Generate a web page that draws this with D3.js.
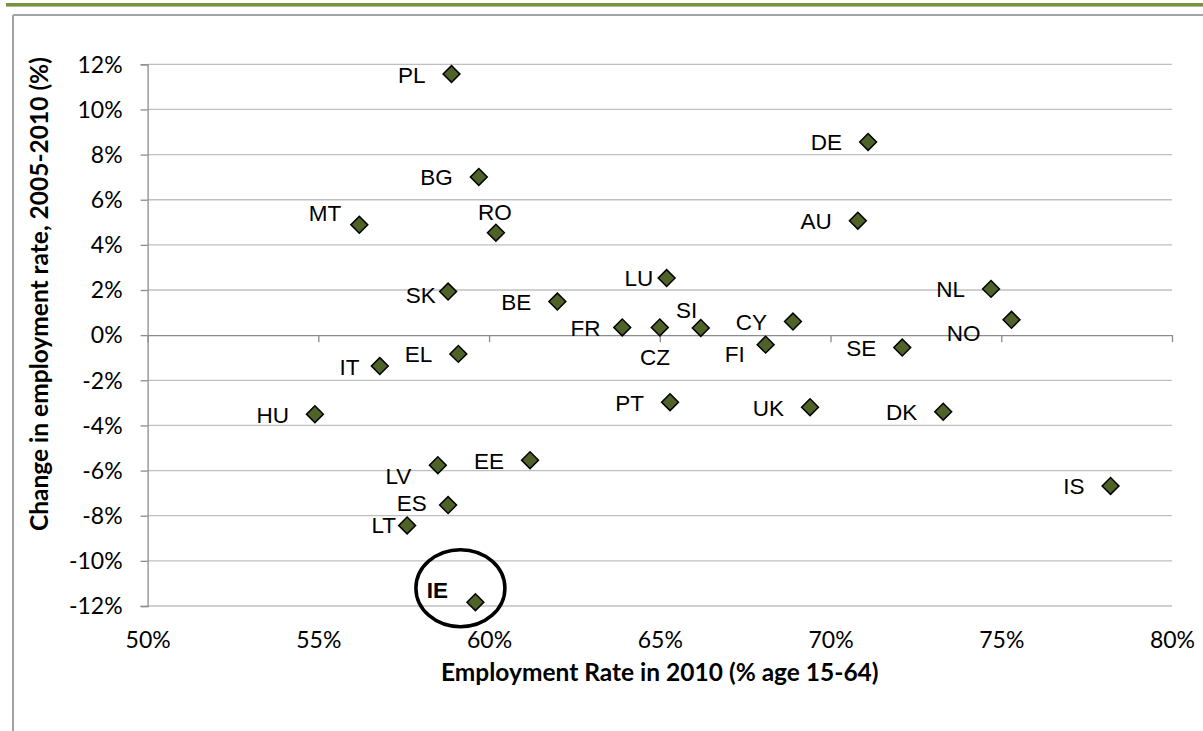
<!DOCTYPE html>
<html>
<head>
<meta charset="utf-8">
<script src="https://cdn.jsdelivr.net/npm/d3@7"></script>
<style>
  html, body { margin: 0; padding: 0; background: #ffffff; }
  svg { display: block; }
</style>
</head>
<body>
<svg id="chart" width="1203" height="731"></svg>
<script>
// Country codes
const countries = ["PL","DE","BG","MT","RO","AU","LU","SK","BE","NL","FR","CZ","SI","CY","NO",
                   "FI","SE","EL","IT","PT","UK","DK","HU","LV","EE","ES","LT","IS","IE"];
// Employment rate in 2010, % of population aged 15-64
const employmentRate2010 = [58.9, 71.1, 59.7, 56.2, 60.2, 70.8, 65.2, 58.8, 62.0, 74.7, 63.9, 65.0, 66.2, 68.9, 75.3,
                            68.1, 72.1, 59.1, 56.8, 65.3, 69.4, 73.3, 54.9, 58.5, 61.2, 58.8, 57.6, 78.2, 59.6];
// Change in employment rate 2005-2010, %
const employmentChange = [11.57, 8.56, 7.01, 4.89, 4.54, 5.07, 2.53, 1.93, 1.49, 2.05, 0.34, 0.34, 0.32, 0.60, 0.68,
                          -0.42, -0.55, -0.83, -1.37, -2.97, -3.19, -3.39, -3.50, -5.76, -5.54, -7.53, -8.43, -6.68, -11.83];
// Axis ticks
const xTicks = [0.50, 0.55, 0.60, 0.65, 0.70, 0.75, 0.80];
const yTicks = [-0.12, -0.10, -0.08, -0.06, -0.04, -0.02, 0, 0.02, 0.04, 0.06, 0.08, 0.10, 0.12];
const xTitle = "Employment Rate in 2010 (% age 15-64)";
const yTitle = "Change in employment rate, 2005-2010 (%)";
const highlighted = "IE";

// Label placement relative to each marker (pixels)
const labelDefault = { dx: -26, dy: 8.5, anchor: "end" };
const labelPlacement = {
  MT: { dx: -18, dy: -3.3 },
  RO: { dx: -1, dy: -12.3, anchor: "middle" },
  SK: { dx: -12.4, dy: 11.6 },
  LU: { dx: -13.3, dy: 8.4 },
  SI: { dx: -3.6, dy: -9.7 },
  FR: { dx: -21.7, dy: 9 },
  CZ: { dx: -4.7, dy: 37.3, anchor: "middle" },
  NO: { dx: -31, dy: 20.7 },
  FI: { dx: -21, dy: 17.6 },
  IT: { dx: -20.3, dy: 8.7 },
  LV: { dx: -26.6, dy: 18.7 },
  ES: { dx: -21.3, dy: 5.7 },
  LT: { dx: -11, dy: 8 },
  IE: { dx: -27.4, dy: -3.7 }
};

const points = countries.map((c, i) => ({
  code: c,
  x: employmentRate2010[i] / 100,
  y: employmentChange[i] / 100
}));

const svg = d3.select("#chart");
const W = 1203, H = 731;
const plot = { left: 147.6, right: 1172, top: 64.3, bottom: 606 };

const x = d3.scaleLinear().domain([0.50, 0.80]).range([plot.left, plot.right]);
const y = d3.scaleLinear().domain([-0.12, 0.12]).range([plot.bottom, plot.top]);

const locale = d3.formatLocale({ decimal: ".", thousands: ",", grouping: [3], currency: ["", ""], minus: "-" });
const pct = locale.format(".0%");

const tickFont = "Lato, 'Open Sans', sans-serif";

// Outer frame: olive band and grey border
svg.append("rect").attr("x", 6).attr("y", 3).attr("width", W - 6).attr("height", 3.6).attr("fill", "#77933c");
svg.append("line").attr("x1", 13).attr("x2", W).attr("y1", 15).attr("y2", 15)
  .attr("stroke", "#a3a3a3").attr("stroke-width", 2);
svg.append("line").attr("x1", 13).attr("x2", 13).attr("y1", 15).attr("y2", H)
  .attr("stroke", "#a3a3a3").attr("stroke-width", 2);

// Horizontal gridlines
svg.append("g").attr("class", "grid")
  .selectAll("line").data(yTicks.filter(t => t !== 0)).join("line")
  .attr("x1", plot.left).attr("x2", plot.right)
  .attr("y1", d => y(d)).attr("y2", d => y(d))
  .attr("stroke", "#c0c0c0").attr("stroke-width", 1.3);

// Y axis with outside ticks
const yAxis = svg.append("g")
  .attr("transform", `translate(${plot.left},0)`)
  .call(d3.axisLeft(y).tickValues(yTicks).tickFormat(pct).tickSize(7).tickPadding(18));
yAxis.select(".domain").attr("stroke", "#8c8c8c").attr("stroke-width", 1.3);
yAxis.selectAll(".tick line").attr("stroke", "#8c8c8c").attr("stroke-width", 1.3);
yAxis.selectAll(".tick text")
  .attr("font-family", tickFont).attr("font-size", 23).attr("fill", "#000")
  .attr("dy", "0.34em");

// X axis crossing at zero change
const xAxis = svg.append("g")
  .attr("transform", `translate(0,${y(0)})`)
  .call(d3.axisBottom(x).tickValues(xTicks).tickFormat("").tickSize(7).tickSizeOuter(0));
xAxis.select(".domain").attr("stroke", "#8c8c8c").attr("stroke-width", 1.3);
xAxis.selectAll(".tick line").attr("stroke", "#8c8c8c").attr("stroke-width", 1.3);

// X tick labels along the bottom of the plot
const xLabels = svg.append("g")
  .attr("transform", `translate(0,${plot.bottom})`)
  .call(d3.axisBottom(x).tickValues(xTicks).tickFormat(pct).tickSize(0).tickPadding(26));
xLabels.select(".domain").remove();
xLabels.selectAll(".tick text")
  .attr("font-family", tickFont).attr("font-size", 23).attr("fill", "#000");

// Axis titles
svg.append("text")
  .attr("x", (plot.left + plot.right) / 2).attr("y", 681)
  .attr("text-anchor", "middle")
  .attr("font-family", tickFont).attr("font-weight", "bold").attr("font-size", 24.5).attr("fill", "#000")
  .text(xTitle);
svg.append("text")
  .attr("transform", "translate(48,294) rotate(-90)")
  .attr("text-anchor", "middle")
  .attr("font-family", tickFont).attr("font-weight", "bold").attr("font-size", 24.5).attr("fill", "#000")
  .text(yTitle);

// Markers
const diamond = d3.symbol().type(d3.symbolSquare).size(142);
svg.append("g").selectAll("path").data(points).join("path")
  .attr("d", diamond)
  .attr("transform", d => `translate(${x(d.x)},${y(d.y)}) rotate(45)`)
  .attr("fill", "#4f6228").attr("stroke", "#000").attr("stroke-width", 1.5);

// Country labels
svg.append("g").selectAll("text").data(points).join("text")
  .each(function (d) {
    const p = Object.assign({}, labelDefault, labelPlacement[d.code] || {});
    d3.select(this)
      .attr("x", x(d.x) + p.dx).attr("y", y(d.y) + p.dy)
      .attr("text-anchor", p.anchor);
  })
  .attr("font-family", "'Liberation Sans', Arial, sans-serif")
  .attr("font-size", 22.5)
  .attr("font-weight", d => d.code === highlighted ? "bold" : "normal")
  .attr("fill", "#000")
  .text(d => d.code);

// Ring around the highlighted country
const hl = points.find(d => d.code === highlighted);
svg.append("ellipse")
  .attr("cx", x(hl.x) - 15).attr("cy", y(hl.y) - 14)
  .attr("rx", 44.5).attr("ry", 38.5)
  .attr("fill", "none").attr("stroke", "#000").attr("stroke-width", 3.5);
</script>
</body>
</html>
